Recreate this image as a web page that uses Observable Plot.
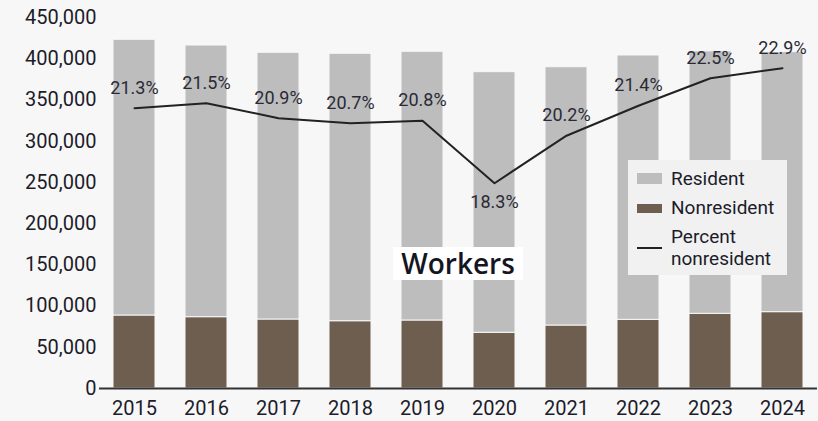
<!DOCTYPE html>
<html>
<head>
<meta charset="utf-8">
<script src="https://cdn.jsdelivr.net/npm/d3@7"></script>
<script src="https://cdn.jsdelivr.net/npm/@observablehq/plot@0.6"></script>
<style>
  html, body { margin: 0; padding: 0; background: #f7f7f7; }
  #wrap { position: relative; width: 818px; height: 421px; background: #f7f7f7; overflow: hidden; }
  #title { position: absolute; left: 393px; top: 247px; width: 130px; height: 33px; background: #ffffff;
           font-family: "Open Sans", sans-serif; font-weight: 600; font-size: 28px; line-height: 33px;
           color: #15151f; text-align: center; }
  #legend { position: absolute; left: 628px; top: 160px; width: 159px; height: 115px; background: #f1f1f1;
            font-family: Roboto, sans-serif; font-size: 19px; color: #1c1c2a; }
  .sw { position: absolute; left: 9px; width: 25px; }
  .lt { position: absolute; left: 43px; line-height: 22px; white-space: nowrap; }
</style>
</head>
<body>
<div id="wrap">
  <div id="chart"></div>
  <div id="title">Workers</div>
  <div id="legend">
    <div class="sw" style="top:13px;height:11px;background:#bdbdbd"></div>
    <div class="lt" style="top:8px">Resident</div>
    <div class="sw" style="top:44px;height:9px;background:#6e5e50"></div>
    <div class="lt" style="top:37px">Nonresident</div>
    <div class="sw" style="top:87px;height:2px;background:#222"></div>
    <div class="lt" style="top:66px">Percent<br>nonresident</div>
  </div>
</div>
<script>
const years = ["2015","2016","2017","2018","2019","2020","2021","2022","2023","2024"];
const nonresident = [88550, 86500, 83700, 81600, 82500, 67600, 76400, 83300, 90600, 92600];
const resident = [334400, 329500, 323500, 324400, 325900, 316100, 313300, 320600, 318400, 315400];
const percentNonresident = [21.3, 21.5, 20.9, 20.7, 20.8, 18.3, 20.2, 21.4, 22.5, 22.9];
const yTicks = [0, 50000, 100000, 150000, 200000, 250000, 300000, 350000, 400000, 450000];

// secondary (hidden) scale placing the percentage line inside the chart
const pctToY = d3.scaleLinear().domain([18.3, 22.9]).range([249000, 388500]);

const stackRows = [];
years.forEach((y, i) => {
  stackRows.push({year: y, series: "Nonresident", value: nonresident[i]});
  stackRows.push({year: y, series: "Resident", value: resident[i]});
});
const pctRows = years.map((y, i) => ({year: y, pct: percentNonresident[i]}));

const chart = Plot.plot({
  width: 818,
  height: 421,
  marginLeft: 99,
  marginRight: 1,
  marginTop: 17,
  marginBottom: 33,
  style: {background: "transparent", fontFamily: "Roboto, sans-serif", fontSize: "20px", color: "#1c1c2a"},
  x: {type: "band", domain: years, paddingInner: 0.42, paddingOuter: 0.18, label: null, tickSize: 0, tickPadding: 12},
  y: {domain: [0, 450000], ticks: yTicks, tickFormat: d3.format(","), label: null, tickSize: 0, tickPadding: 3},
  color: {domain: ["Nonresident", "Resident"], range: ["#6e5e50", "#bdbdbd"]},
  marks: [
    Plot.barY(stackRows, {x: "year", y: "value", fill: "series", stroke: "#f7f7f7", strokeWidth: 1}),
    Plot.ruleY([0], {stroke: "#333", strokeWidth: 2}),
    Plot.line(pctRows, {x: "year", y: d => pctToY(d.pct), stroke: "#222", strokeWidth: 2}),
    Plot.text(pctRows.filter(d => d.year !== "2020"), {x: "year", y: d => pctToY(d.pct), text: d => d.pct.toFixed(1) + "%", dy: -20, fontSize: 18, fill: "#2a2a35"}),
    Plot.text(pctRows.filter(d => d.year === "2020"), {x: "year", y: d => pctToY(d.pct), text: d => d.pct.toFixed(1) + "%", dy: 19, fontSize: 18, fill: "#2a2a35"})
  ]
});
document.getElementById("chart").appendChild(chart);
</script>
</body>
</html>
